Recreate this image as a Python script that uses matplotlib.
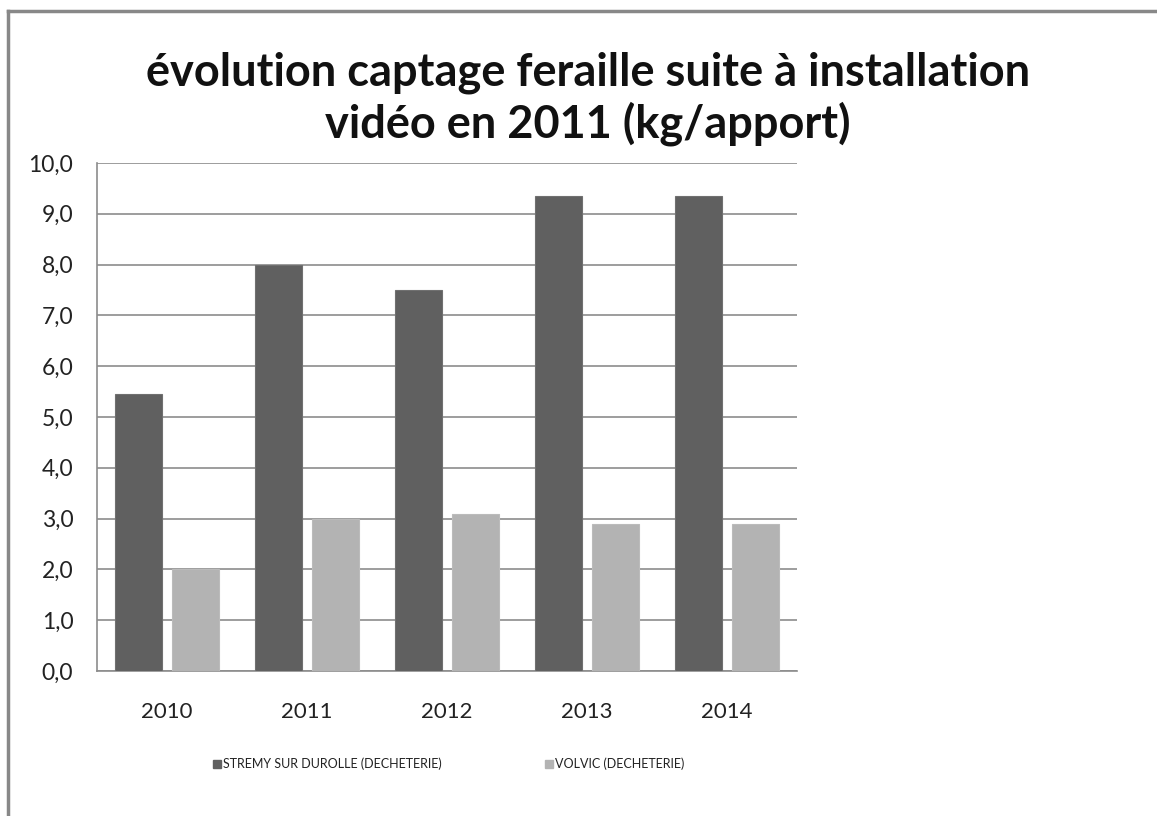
import matplotlib.pyplot as plt
import numpy as np
from matplotlib.lines import Line2D
from matplotlib.patches import Rectangle

years = ["2010", "2011", "2012", "2013", "2014"]
stremy = [5.45, 8.0, 7.5, 9.35, 9.35]
volvic = [2.0, 3.0, 3.1, 2.9, 2.9]
series_names = ["STREMY SUR DUROLLE (DECHETERIE)", "VOLVIC (DECHETERIE)"]

plt.rcParams['font.family'] = ['Lato', 'DejaVu Sans']

fig = plt.figure(figsize=(11.57, 8.16), dpi=100)
ax = fig.add_axes([0.0838, 0.1777, 0.605, 0.6225])

x = np.arange(len(years))
w = 0.335
ax.bar(x - 0.205, stremy, w, color="#606060", edgecolor="#707070", linewidth=0.8, zorder=3)
ax.bar(x + 0.205, volvic, w, color="#b3b3b3", edgecolor="#bbbbbb", linewidth=0.8, zorder=3)

ax.set_xlim(-0.5, len(years) - 0.5)
ax.set_ylim(0, 10)
ax.set_yticks(np.arange(0, 11, 1))
ax.set_yticklabels([f"{v:.1f}".replace(".", ",") for v in np.arange(0, 11, 1)], fontsize=16.5, color="#222222")
ax.set_xticks(x)
ax.set_xticklabels(years, fontsize=16, color="#222222")
ax.tick_params(axis="y", length=0, pad=17)
ax.tick_params(axis="x", length=0, pad=22)
ax.yaxis.grid(True, color="#8c8c8c", linewidth=1.2, zorder=0)
ax.set_axisbelow(True)
for s in ["top", "right"]:
    ax.spines[s].set_visible(False)
for s in ["left", "bottom"]:
    ax.spines[s].set_color("#8c8c8c")
    ax.spines[s].set_linewidth(1.2)

fig.text(0.508, 0.879, "évolution captage feraille suite à installation\nvidéo en 2011 (kg/apport)",
         ha="center", va="center", fontsize=32.5, fontweight="bold", linespacing=1.2, color="#111111")

# legend
fig.add_artist(Rectangle((213 / 1157, 1 - 768 / 816), 8 / 1157, 8 / 816, color="#606060", transform=fig.transFigure))
fig.text(223 / 1157, 1 - 764 / 816, series_names[0], fontsize=9, va="center", color="#222222")
fig.add_artist(Rectangle((545 / 1157, 1 - 768 / 816), 8 / 1157, 8 / 816, color="#b3b3b3", transform=fig.transFigure))
fig.text(555 / 1157, 1 - 764 / 816, series_names[1], fontsize=9, va="center", color="#222222")

# frame of the chart area
fig.add_artist(Line2D([8 / 1157, 8 / 1157], [0, 1 - 11 / 816], color="#888888", linewidth=2.5, transform=fig.transFigure))
fig.add_artist(Line2D([8 / 1157, 1], [1 - 11 / 816, 1 - 11 / 816], color="#888888", linewidth=2.5, transform=fig.transFigure))

fig.savefig("out.png", dpi=100)
